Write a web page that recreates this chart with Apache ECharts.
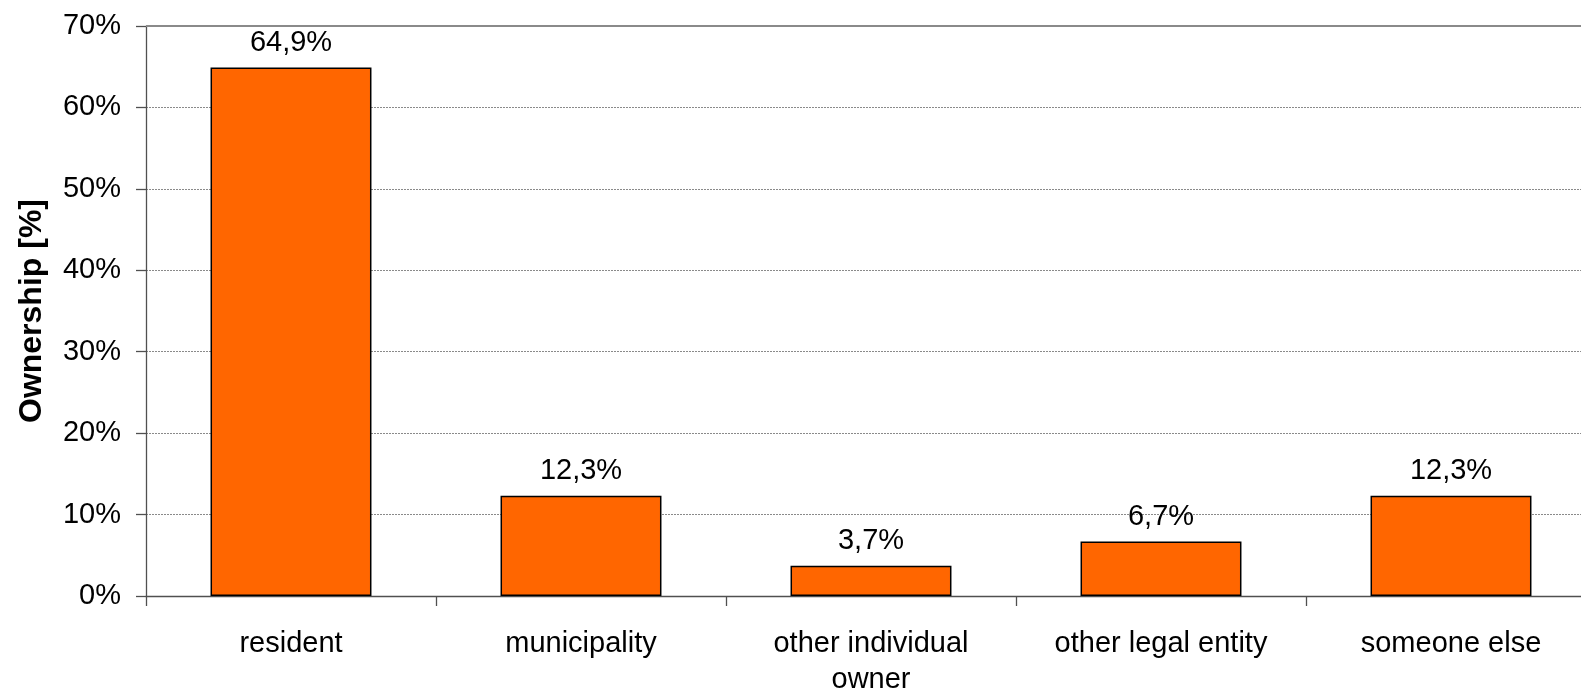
<!DOCTYPE html>
<html>
<head>
<meta charset="utf-8">
<script src="https://cdn.jsdelivr.net/npm/echarts@6/dist/echarts.min.js"></script>
<style>
  html, body { margin: 0; padding: 0; background: #fff; }
  #chart { width: 1581px; height: 690px; }
</style>
</head>
<body>
<div id="chart"></div>
<script>
// Ownership categories and their shares (%)
const categories = ['resident', 'municipality', 'other individual\nowner', 'other legal entity', 'someone else'];
const shares = [64.9, 12.3, 3.7, 6.7, 12.3];
const yTicks = { min: 0, max: 70, interval: 10 };

const FONT = '"Liberation Sans", Arial, sans-serif';
const SIZE = 29;
const fmt = v => v.toFixed(1).replace('.', ',') + '%';

const chart = echarts.init(document.getElementById('chart'), null, { renderer: 'canvas' });
chart.setOption({
  animation: false,
  backgroundColor: '#ffffff',
  // plot area runs slightly past the right edge of the canvas
  grid: { left: 146, width: 1450, top: 26, height: 570, containLabel: false, outerBoundsMode: 'none' },
  xAxis: {
    type: 'category',
    data: categories,
    axisLine: { lineStyle: { color: '#505050', width: 1.3 } },
    axisTick: { show: true, length: 10, lineStyle: { color: '#505050', width: 1.3 } },
    axisLabel: {
      color: '#000', fontFamily: FONT, fontSize: SIZE, margin: 30, lineHeight: 36, interval: 0
    }
  },
  yAxis: {
    type: 'value',
    min: yTicks.min, max: yTicks.max, interval: yTicks.interval,
    name: 'Ownership [%]',
    nameLocation: 'middle',
    nameGap: 98,
    nameRotate: 90,
    nameTextStyle: { color: '#000', fontFamily: FONT, fontSize: 32, fontWeight: 'bold' },
    axisLine: { show: true, lineStyle: { color: '#505050', width: 1.3 } },
    axisTick: { show: true, length: 10, lineStyle: { color: '#505050', width: 1.3 } },
    axisLabel: {
      color: '#000', fontFamily: FONT, fontSize: SIZE, margin: 25,
      formatter: v => v + '%'
    },
    splitLine: { show: true, lineStyle: { color: '#8a8a8a', width: 1, type: [2, 1] } }
  },
  series: [{
    type: 'bar',
    data: shares,
    barWidth: '55.5%',
    itemStyle: { color: '#FF6600', borderColor: '#000', borderWidth: 1.5 },
    label: {
      show: true, position: 'top', distance: 10,
      color: '#000', fontFamily: FONT, fontSize: SIZE,
      formatter: p => fmt(p.value)
    },
    markLine: {
      silent: true, symbol: 'none', label: { show: false },
      lineStyle: { color: '#8a8a8a', width: 2, type: 'solid' },
      data: [{ yAxis: yTicks.max }]
    }
  }]
});
</script>
</body>
</html>
